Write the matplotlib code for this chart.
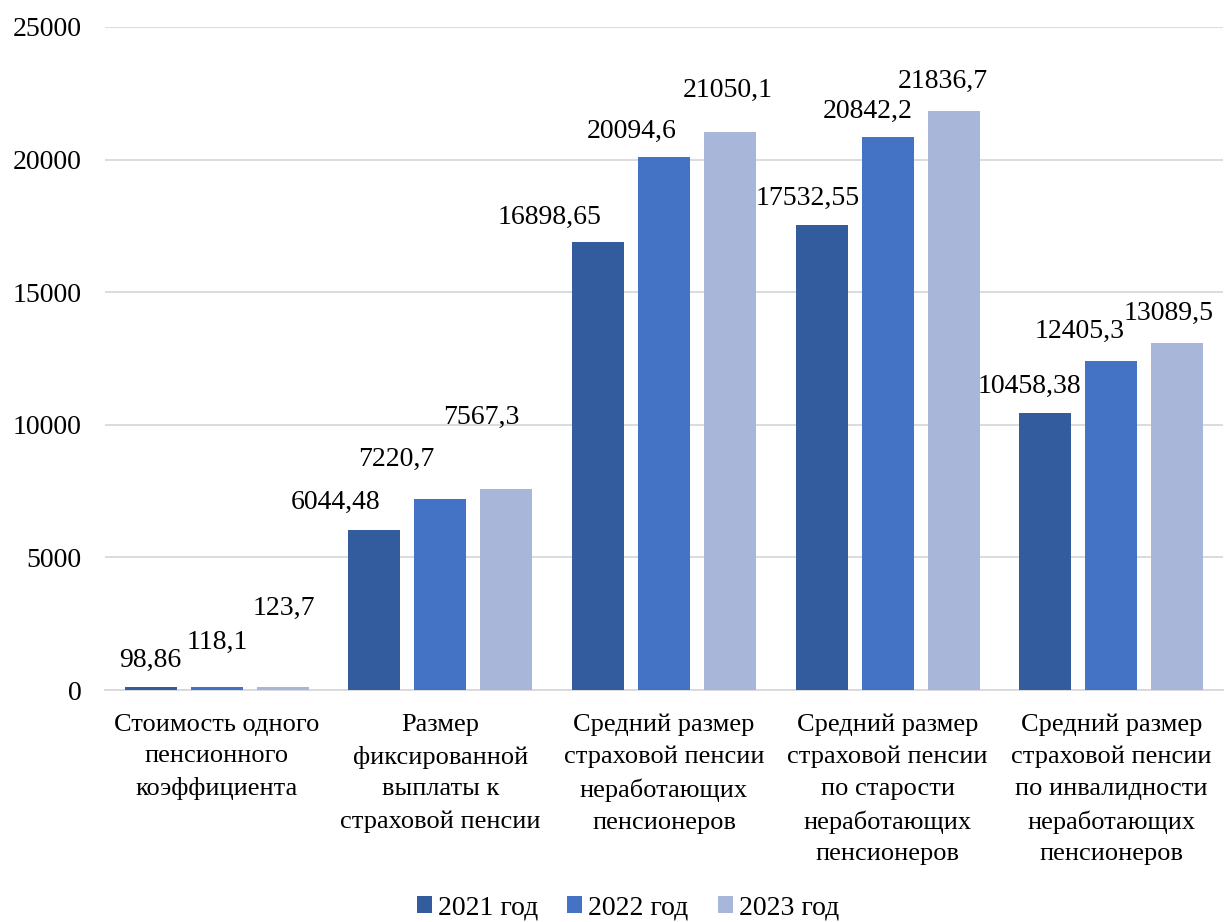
import matplotlib
matplotlib.use("Agg")
import matplotlib.pyplot as plt
import numpy as np

plt.rcParams['font.family'] = ['Liberation Serif', 'DejaVu Serif']

categories = [
    "Стоимость одного\nпенсионного\nкоэффициента",
    "Размер\nфиксированной\nвыплаты к\nстраховой пенсии",
    "Средний размер\nстраховой пенсии\nнеработающих\nпенсионеров",
    "Средний размер\nстраховой пенсии\nпо старости\nнеработающих\nпенсионеров",
    "Средний размер\nстраховой пенсии\nпо инвалидности\nнеработающих\nпенсионеров",
]
series_names = ["2021 год", "2022 год", "2023 год"]
values_2021 = [98.86, 6044.48, 16898.65, 17532.55, 10458.38]
values_2022 = [118.1, 7220.7, 20094.6, 20842.2, 12405.3]
values_2023 = [123.7, 7567.3, 21050.1, 21836.7, 13089.5]
y_ticks = [0, 5000, 10000, 15000, 20000, 25000]

colors = ["#335C9E", "#4472C4", "#A8B6DA"]
# label offsets (pixels) relative to bar top centre, per series per category
label_offsets = [
    [(-1, 27), (-39, 27), (-48, 24), (-14, 27), (-16, 26)],
    [(0, 44), (-44, 39), (-32, 26), (-20, 26), (-32, 30)],
    [(1, 78), (-25, 72), (-2, 41), (-11, 29), (-9, 29)],
]

fig = plt.figure(figsize=(12.24, 9.22), dpi=100)
ax = fig.add_axes([105/1224, 232/922, 1118/1224, 663/922])

x = np.arange(len(categories))
width = 0.233
step = 0.295
all_vals = [values_2021, values_2022, values_2023]
for j, (vals, name, c) in enumerate(zip(all_vals, series_names, colors)):
    bars = ax.bar(x + (j - 1) * step, vals, width, color=c, label=name, zorder=3)
    for k, (b, v) in enumerate(zip(bars, vals)):
        dx, dy = label_offsets[j][k]
        ax.annotate(str(v).replace('.', ','),
                    (b.get_x() + b.get_width() / 2, b.get_height()),
                    xytext=(dx, dy), textcoords='offset pixels',
                    ha='center', va='center', fontsize=20, color='black')

ax.set_xlim(-0.5, len(categories) - 0.5)
ax.set_ylim(0, 25000)
ax.set_yticks(y_ticks)
ax.set_yticklabels([str(t) for t in y_ticks], fontsize=20)
ax.set_xticks(x)
ax.set_xticklabels(categories, fontsize=19, linespacing=1.56, va='top')
ax.tick_params(axis='both', length=0)
ax.tick_params(axis='y', pad=17)
ax.tick_params(axis='x', pad=17)
ax.yaxis.grid(True, color='#d9d9d9', linewidth=1.3, zorder=0)
for s in ['top', 'right', 'left']:
    ax.spines[s].set_visible(False)
ax.spines['bottom'].set_color('#d9d9d9')
ax.spines['bottom'].set_linewidth(1.3)
ax.set_axisbelow(True)

fig.legend(loc='center', bbox_to_anchor=(628/1224, 14/922), ncol=3,
           frameon=False, fontsize=20, handlelength=0.54, handleheight=0.54,
           handletextpad=0.22, columnspacing=1.05, borderpad=0.1)

fig.savefig("out.png", dpi=100)
